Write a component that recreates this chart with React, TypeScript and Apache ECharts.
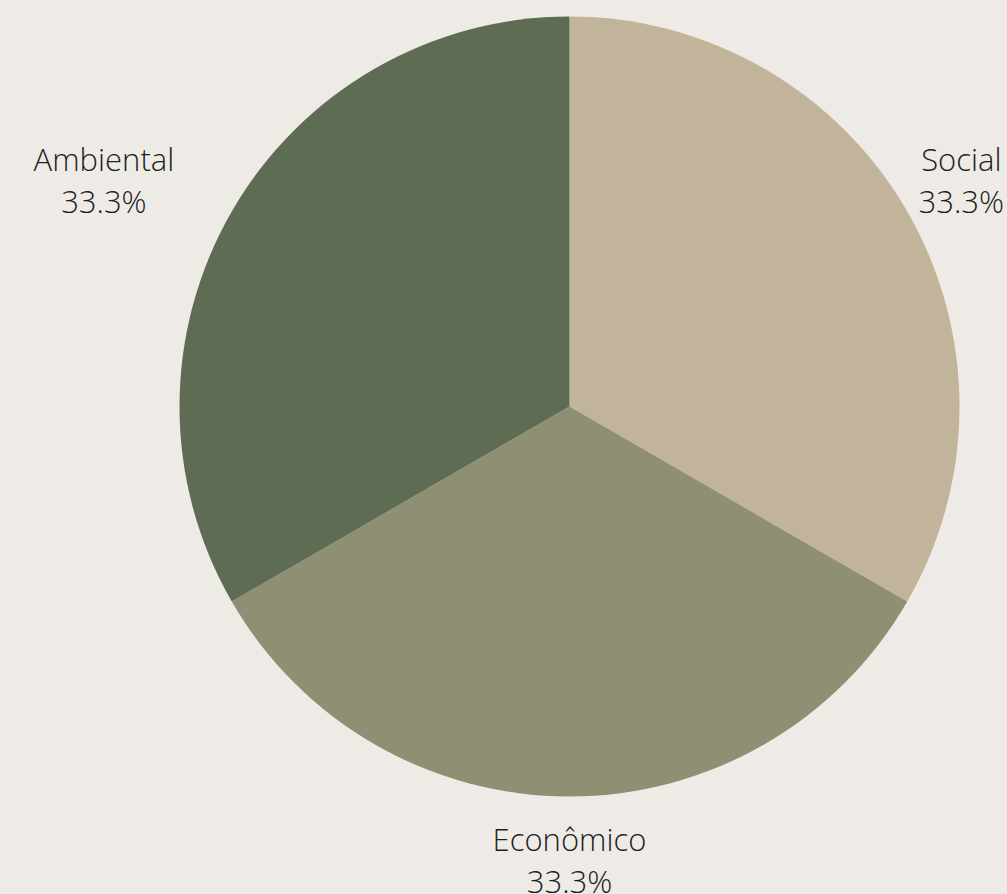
import React, { useEffect, useRef } from "react";
import * as echarts from "echarts";

const categories = ["Social", "Econômico", "Ambiental"];
const values = [33.3, 33.3, 33.3];
const colors = ["#C2B49A", "#8F8F74", "#5E6C53"];

const W = 1007;
const H = 894;
const CX = 569.5;
const CY = 406.5;
const R = 390;
const LABEL_R = 453;
const FONT_SIZE = 31;
const FONT_FAMILY = "'Open Sans', sans-serif";

function measure(text: string): number {
  const c = document.createElement("canvas");
  const ctx = c.getContext("2d");
  if (!ctx) return text.length * FONT_SIZE * 0.5;
  ctx.font = `300 ${FONT_SIZE}px 'Open Sans'`;
  return Math.max(...text.split("\n").map((l) => ctx.measureText(l).width));
}

export default function App() {
  const ref = useRef<HTMLDivElement>(null);
  useEffect(() => {
    document.body.style.margin = "0";
    document.body.style.background = "#EEEBE6";
    if (!ref.current) return;
    const chart = echarts.init(ref.current, undefined, { renderer: "svg" });
    const total = values.reduce((a, b) => a + b, 0);
    const mids: number[] = [];
    let acc = 0;
    values.forEach((v) => {
      mids.push(90 - (360 * (acc + v / 2)) / total);
      acc += v;
    });
    chart.setOption({
      animation: false,
      backgroundColor: "#EEEBE6",
      series: [
        {
          type: "pie",
          center: [CX, CY],
          radius: [0, R],
          startAngle: 90,
          clockwise: true,
          avoidLabelOverlap: false,
          data: categories.map((name, i) => ({
            name,
            value: values[i],
            itemStyle: { color: colors[i] },
          })),
          label: {
            show: true,
            position: "outside",
            formatter: (p: any) => `${p.name}\n${p.value.toFixed(1)}%`,
            fontFamily: FONT_FAMILY,
            fontWeight: 300,
            fontSize: FONT_SIZE,
            lineHeight: 42,
            color: "#1E1E1E",
            width: 220,
            overflow: "none",
          },
          labelLine: { show: false },
          labelLayout: (p: any) => {
            const a = (mids[p.dataIndex] * Math.PI) / 180;
            const ax = CX + LABEL_R * Math.cos(a);
            const ay = CY - LABEL_R * Math.sin(a);
            const half = measure(p.text) / 2;
            let x = ax;
            if (Math.cos(a) > 0.01) x = ax + 3 + half;
            else if (Math.cos(a) < -0.01) x = ax - 3 - half;
            x = Math.min(x, W - 3 - half);
            x = Math.max(x, 4 + half);
            return { x, y: ay, align: "center", verticalAlign: "middle" };
          },
        },
      ],
    });
    return () => chart.dispose();
  }, []);
  return <div ref={ref} style={{ width: W, height: H }} />;
}
